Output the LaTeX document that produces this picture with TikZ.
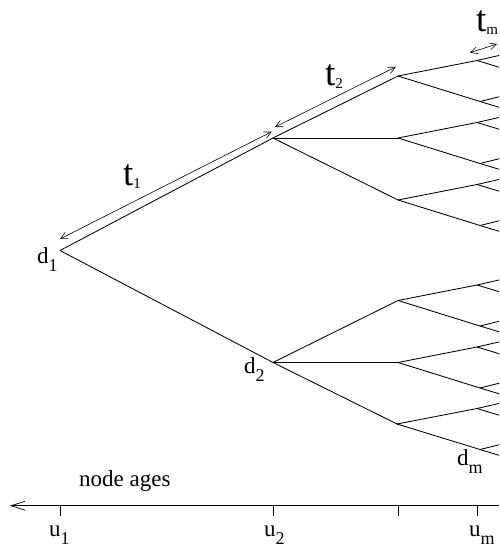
\documentclass[tikz,border=0pt]{standalone}
\usepackage{fontspec}
\setmainfont{Liberation Serif}
\usetikzlibrary{arrows.meta,calc}
\newcommand{\lsub}[1]{\raisebox{-8pt}{\fontsize{18}{18}\selectfont #1}}
\newcommand{\tsub}[1]{\raisebox{-3pt}{\fontsize{15}{15}\selectfont #1}}
\begin{document}
\begin{tikzpicture}[x=1pt,y=-1pt,
  edge/.style={line width=0.85pt},
  lbl/.style={font=\fontsize{23}{23}\selectfont, inner sep=0pt, anchor=base west},
  tlbl/.style={font=\fontsize{37}{37}\selectfont, inner sep=0pt, anchor=base west},
  dimarrow/.style={line width=0.6pt, {Straight Barb[length=7pt,width=7pt]}-{Straight Barb[length=7pt,width=7pt]}},
  axisarrow/.style={line width=0.7pt, -{Straight Barb[length=14pt,width=9pt]}},
  tick/.style={line width=0.7pt}]
\useasboundingbox (0,0) rectangle (499,548);
\clip (0,0) rectangle (499,548);
% tree nodes
\coordinate (R) at (60,250.5);
\coordinate (A) at (273,138);
\coordinate (B) at (273,362.5);
\coordinate (A1) at (398,76);
\coordinate (A2) at (398,138);
\coordinate (A3) at (398,200);
\coordinate (B1) at (398,300.5);
\coordinate (B2) at (398,362.5);
\coordinate (B3) at (397,424);
\draw[edge] (R) -- (A);
\draw[edge] (R) -- (B);
\foreach \p in {A,B}{
  \foreach \i in {1,2,3}{
    \draw[edge] (\p) -- (\p\i);
  }
}
\foreach \n/\y in {A1/76,A2/138,A3/200,B1/300.5,B2/362.5,B3/424}{
  \coordinate (\n u) at (477,\y-15.5);
  \coordinate (\n d) at (480,\y+25.5);
  \draw[edge] (\n) -- (\n u);
  \draw[edge] (\n) -- (\n d);
  \coordinate (\n ue) at ($(\n u)+(28,-6.4)$);
  \coordinate (\n uf) at ($(\n u)+(28,8.5)$);
  \coordinate (\n de) at ($(\n d)+(28,-7)$);
  \coordinate (\n df) at ($(\n d)+(28,8.5)$);
  \draw[edge] (\n u) -- (\n ue);
  \draw[edge] (\n u) -- (\n uf);
  \draw[edge] (\n d) -- (\n de);
  \draw[edge] (\n d) -- (\n df);
}
% branch length arrows
\coordinate (t1a) at (60,239);
\coordinate (t1b) at (271.7,131.7);
\coordinate (t2a) at (275,127);
\coordinate (t2b) at (395.7,67);
\coordinate (tma) at (470,52.7);
\coordinate (tmb) at (497,44);
\draw[dimarrow] (t1a) -- (t1b);
\draw[dimarrow] (t2a) -- (t2b);
\draw[dimarrow] (tma) -- (tmb);
\node[tlbl] (lt1) at (123,185) {t\tsub{1}};
\node[tlbl] (lt2) at (325,86) {t\tsub{2}};
\node[tlbl] (ltm) at (476,32) {t\tsub{m}};
% node labels
\node[lbl] (ld1) at (37,263) {d\lsub{1}};
\node[lbl] (ld2) at (244,373) {d\lsub{2}};
\node[lbl] (ldm) at (457,465) {d\lsub{m}};
% axis
\coordinate (axR) at (499,505.7);
\coordinate (axL) at (10,505.7);
\draw[axisarrow] (axR) -- (axL);
\foreach \x/\nm in {60/k1,273/k2,398/k3,477/k4}{
  \coordinate (\nm a) at (\x,505.7);
  \coordinate (\nm b) at (\x,516);
  \draw[tick] (\nm a) -- (\nm b);
}
\node[lbl] (ages) at (79,486) {node ages};
\node[lbl] (lu1) at (49,536) {u\lsub{1}};
\node[lbl] (lu2) at (264,536) {u\lsub{2}};
\node[lbl] (lum) at (469,536) {u\lsub{m}};
\end{tikzpicture}
\end{document}
